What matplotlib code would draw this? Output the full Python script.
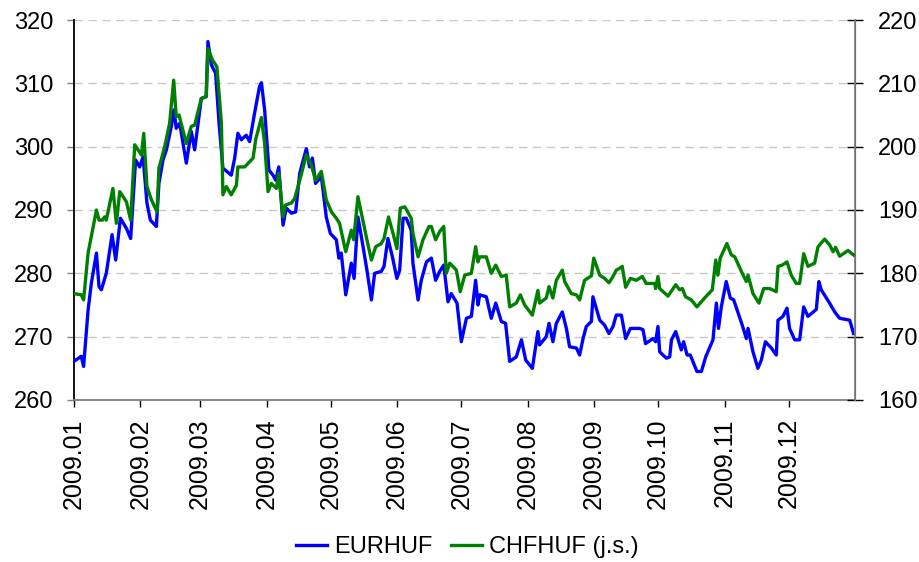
import matplotlib
matplotlib.use("Agg")
import matplotlib.pyplot as plt
import matplotlib.dates as mdates
import pandas as pd

plt.rcParams["font.family"] = ["Liberation Sans", "DejaVu Sans"]

# day of year (1 = 2009-01-01) and rate
eur_days = [
    1.0, 4.4, 5.5, 7.6, 9.1, 11.5, 12.7, 13.8, 16.1, 18.8, 20.5, 22.7, 25.5, 27.5,
    29.8, 31.7, 33.3, 35.1, 36.7, 39.5, 40.7, 42.6, 44.2, 46.5, 47.7, 48.8, 50.4,
    53.5, 55.8, 57.4, 60.5, 62.8, 63.6, 65.2, 67.2, 68.8, 70.6, 74.5, 76.1, 77.6,
    79.2, 81.5, 83.1, 85.4, 87.7, 88.6, 90.1, 92.1, 94.0, 95.3, 96.7, 98.7, 100.2,
    102.6, 104.6, 106.5, 109.6, 111.1, 112.4, 113.9, 116.6, 118.9, 120.8, 123.6,
    124.8, 125.9, 128.0, 130.6, 131.9, 133.7, 136.1, 137.9, 140.0, 141.5, 144.6,
    145.9, 147.7, 149.8, 151.9, 153.2, 154.8, 156.3, 158.6, 159.4, 161.8, 163.3,
    165.7, 168.0, 170.0, 171.9, 173.8, 175.8, 177.3, 180.0, 182.0, 184.4, 186.7,
    188.7, 189.8, 190.6, 193.7, 196.0, 198.1, 200.7, 202.7, 204.6, 207.7, 210.1,
    212.1, 215.2, 217.8, 218.6, 221.7, 223.0, 224.8, 226.4, 229.2, 231.1, 232.6,
    235.8, 237.3, 238.9, 240.4, 242.8, 243.5, 246.7, 249.0, 251.0, 252.9, 254.4,
    256.0, 256.8, 258.8, 261.0, 265.3, 266.9, 268.1, 271.6, 272.8, 273.9, 274.7,
    277.8, 279.4, 280.2, 282.2, 284.8, 285.9, 287.5, 289.0, 292.1, 294.2, 296.2,
    299.6, 301.2, 302.2, 303.5, 305.8, 307.7, 309.3, 313.3, 315.2, 316.0, 318.3,
    320.6, 322.2, 324.1, 326.9, 329.2, 330.0, 332.3, 334.2, 335.4, 337.8, 340.1,
    342.0, 344.0, 347.9, 349.1, 350.2, 354.1, 356.5, 358.8, 363.5, 365.3,
]
eurhuf = [
    266.1, 266.9, 265.3, 274.2, 278.4, 283.2, 277.9, 277.4, 280.0, 286.1, 282.1,
    288.7, 287.1, 285.5, 297.9, 296.8, 298.4, 291.1, 288.4, 287.4, 294.2, 297.9,
    299.5, 303.2, 305.8, 302.9, 303.7, 297.4, 302.4, 299.5, 307.6, 307.9, 316.6,
    312.9, 311.6, 303.7, 296.6, 295.5, 298.2, 302.1, 301.1, 301.8, 300.8, 305.3,
    309.5, 310.1, 305.8, 296.3, 295.5, 294.7, 296.8, 287.6, 290.3, 289.5, 289.7,
    295.8, 299.7, 296.8, 298.2, 294.2, 295.3, 288.9, 286.3, 285.3, 282.4, 283.2,
    276.6, 281.6, 279.2, 288.9, 284.2, 280.5, 275.8, 280.0, 280.3, 281.1, 285.5,
    282.6, 279.2, 280.5, 288.7, 288.7, 286.8, 281.6, 275.8, 278.9, 281.8, 282.4,
    278.9, 280.3, 281.3, 275.5, 276.8, 275.3, 269.2, 272.9, 273.2, 278.9, 275.0,
    276.6, 276.3, 272.9, 275.3, 272.4, 272.1, 266.1, 266.8, 269.5, 266.3, 265.0,
    270.8, 268.7, 270.0, 272.1, 269.2, 272.1, 273.9, 271.3, 268.4, 268.2, 267.1,
    269.7, 271.6, 272.4, 276.3, 272.6, 271.8, 270.5, 271.6, 273.4, 273.4, 273.4,
    269.7, 271.3, 271.3, 271.1, 268.9, 269.7, 269.2, 271.6, 267.6, 266.6, 266.8,
    269.5, 270.8, 267.9, 269.2, 267.1, 267.1, 264.5, 264.5, 266.8, 269.5, 275.3,
    271.3, 274.7, 278.7, 276.1, 275.8, 271.8, 269.7, 271.3, 267.6, 265.0, 266.3,
    269.2, 268.2, 267.1, 272.6, 273.2, 274.5, 271.3, 269.5, 269.5, 274.7, 273.2,
    274.3, 278.7, 277.4, 275.3, 273.9, 272.9, 272.6, 270.5,
]

chf_days = [
    1.0, 4.4, 5.5, 7.6, 9.1, 11.5, 12.7, 14.3, 15.3, 16.1, 19.2, 20.8, 22.4, 25.5,
    27.5, 29.4, 32.5, 33.6, 35.1, 37.2, 39.8, 40.7, 43.4, 45.7, 47.6, 48.8, 50.1,
    53.5, 55.8, 57.4, 60.5, 62.8, 63.6, 65.7, 67.8, 69.9, 70.6, 72.2, 74.5, 76.9,
    77.6, 80.8, 83.9, 84.7, 85.9, 88.6, 90.1, 91.7, 93.2, 95.6, 96.7, 98.7, 99.9,
    102.6, 104.1, 106.5, 109.6, 111.9, 113.9, 116.6, 118.9, 121.3, 123.6, 125.1,
    128.0, 130.6, 131.7, 133.7, 136.1, 137.9, 140.0, 142.0, 144.6, 145.9, 148.0,
    150.1, 151.9, 153.5, 155.6, 158.6, 159.4, 161.8, 164.1, 166.9, 168.0, 170.0,
    171.9, 173.8, 175.0, 176.6, 179.7, 181.5, 183.6, 186.7, 188.7, 189.8, 190.6,
    193.7, 196.0, 198.1, 200.7, 203.0, 204.6, 207.7, 209.6, 211.6, 215.2, 217.8,
    218.6, 221.7, 223.0, 224.8, 226.4, 229.2, 230.3, 233.4, 235.8, 237.3, 239.6,
    242.8, 243.9, 246.7, 249.0, 251.0, 252.9, 254.4, 256.0, 257.2, 258.8, 261.0,
    263.8, 266.6, 268.4, 272.4, 272.8, 273.9, 274.7, 278.6, 282.2, 284.0, 285.3,
    286.8, 289.5, 292.1, 295.7, 299.3, 300.9, 301.9, 303.0, 306.1, 308.2, 309.8,
    313.3, 315.2, 316.0, 318.3, 321.1, 323.3, 326.1, 329.2, 330.0, 332.0, 334.2,
    336.2, 338.5, 340.1, 342.0, 344.0, 347.1, 348.7, 351.8, 354.1, 355.7, 356.9,
    358.8, 362.7, 365.3,
]
chfhuf = [
    176.8, 176.6, 175.8, 183.2, 185.8, 190.0, 188.4, 188.4, 188.9, 188.4, 193.4,
    187.9, 192.9, 191.3, 188.4, 200.3, 198.7, 202.1, 193.7, 191.6, 189.7, 196.6,
    200.0, 203.7, 210.5, 204.7, 205.0, 200.5, 203.2, 203.4, 207.6, 207.9, 215.5,
    213.7, 212.6, 203.7, 192.4, 193.7, 192.4, 193.9, 196.8, 196.8, 197.9, 198.2,
    201.1, 204.6, 200.5, 192.9, 194.2, 193.4, 195.8, 188.9, 190.8, 191.1, 191.8,
    194.7, 198.7, 197.1, 194.7, 196.1, 191.6, 189.7, 188.7, 187.9, 183.4, 186.8,
    185.3, 192.1, 188.2, 185.3, 182.1, 184.2, 184.7, 185.5, 188.9, 186.3, 183.9,
    190.3, 190.5, 188.7, 186.3, 182.6, 185.3, 187.4, 187.4, 185.3, 186.6, 187.4,
    180.0, 181.6, 180.5, 177.1, 179.7, 180.0, 184.2, 181.8, 182.6, 182.6, 180.0,
    181.3, 179.5, 179.7, 174.7, 175.3, 176.6, 175.0, 173.4, 177.3, 175.3, 176.1,
    177.9, 176.1, 178.9, 180.5, 178.7, 176.8, 176.6, 175.8, 178.9, 179.6, 182.4,
    179.7, 179.2, 178.5, 179.5, 180.5, 180.8, 181.1, 177.8, 179.2, 178.9, 179.5,
    178.4, 178.4, 177.6, 179.5, 177.6, 176.4, 178.2, 177.4, 177.6, 176.3, 175.8,
    174.7, 176.1, 177.4, 182.1, 179.7, 182.4, 184.7, 182.9, 182.6, 180.0, 178.7,
    179.7, 176.8, 175.3, 177.6, 177.6, 177.1, 181.1, 181.3, 181.8, 179.7, 178.4,
    178.4, 183.1, 181.1, 181.6, 184.2, 185.4, 184.5, 183.4, 184.1, 182.7, 183.6,
    182.9,
]

month_ticks = pd.date_range("2009-01-01", "2009-12-01", freq="MS")


def to_dates(days):
    return pd.Timestamp("2009-01-01") + pd.to_timedelta([d - 1 for d in days], unit="D")


fig = plt.figure(figsize=(9.2, 5.62), dpi=100)
ax = fig.add_axes([0.0804, 0.2883, 0.849, 0.6761])
ax2 = ax.twinx()

ax.plot(to_dates(eur_days), eurhuf, color="#0000ff", lw=2.4, label="EURHUF", zorder=3)
ax2.plot(to_dates(chf_days), chfhuf, color="#008000", lw=2.4, label="CHFHUF (j.s.)", zorder=3)

ax.set_xlim(pd.Timestamp("2009-01-01"), pd.Timestamp("2010-01-01"))
ax.set_ylim(260, 320)
ax2.set_ylim(160, 220)
ax.set_yticks(range(260, 321, 10))
ax2.set_yticks(range(160, 221, 10))

ax.set_xticks(month_ticks)
ax.xaxis.set_major_formatter(mdates.DateFormatter("%Y.%m"))
for lab in ax.get_xticklabels():
    lab.set_rotation(90)

ax.grid(axis="y", color="#c8c8c8", lw=1.0, ls=(0, (6, 4)))
ax.set_axisbelow(True)

for a in (ax, ax2):
    a.spines["top"].set_visible(False)
ax.spines["left"].set_color("black")
ax.spines["bottom"].set_color("#808080")
ax2.spines["right"].set_color("#808080")
ax2.spines["left"].set_visible(False)
ax2.spines["bottom"].set_visible(False)
for s in ("left", "bottom"):
    ax.spines[s].set_linewidth(1.3)
ax2.spines["right"].set_linewidth(1.3)

ax.tick_params(axis="y", direction="out", length=5, width=1, color="#808080",
               labelsize=17, pad=10)
ax.tick_params(axis="x", direction="out", length=5, width=1, color="black",
               labelsize=18, pad=8)
ax2.tick_params(axis="y", direction="inout", length=11, width=1, color="black",
                labelsize=17, pad=11)

h1, l1 = ax.get_legend_handles_labels()
h2, l2 = ax2.get_legend_handles_labels()
fig.legend(h1 + h2, l1 + l2, loc="center", bbox_to_anchor=(0.508, 0.027), ncol=2,
           frameon=False, fontsize=17, handlelength=1.3, handletextpad=0.3,
           columnspacing=0.8)

fig.savefig("out.png", dpi=100)
